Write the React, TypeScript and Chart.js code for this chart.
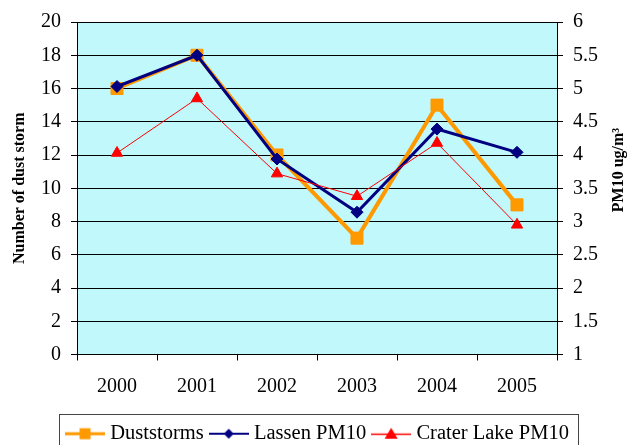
import React, { useEffect, useRef } from "react";
import { Chart, registerables } from "chart.js";

Chart.register(...registerables);

const years = ["2000", "2001", "2002", "2003", "2004", "2005"];
const duststorms = [16, 18, 12, 7, 15, 9];
const lassenPM10 = [5.03, 5.5, 3.94, 3.14, 4.39, 4.04];
const craterLakePM10 = [4.03, 4.85, 3.72, 3.38, 4.18, 2.95];
const seriesNames = ["Duststorms", "Lassen PM10", "Crater Lake PM10"];
const leftTitle = "Number of dust storm";
const rightTitle = "PM10 ug/m\u00B3";

const FONT = "'Liberation Serif', 'Times New Roman', serif";
const ORANGE = "#FF9900";
const NAVY = "#000080";
const RED = "#FF0000";
const PLOT_BG = "#C0F8FC";

Chart.defaults.font.family = FONT;
Chart.defaults.font.size = 20;
Chart.defaults.color = "#000";

const ICON_W = 40;

function makeIcon(kind: string): HTMLCanvasElement {
  const c = document.createElement("canvas");
  c.width = ICON_W;
  c.height = 16;
  const g = c.getContext("2d")!;
  const cy = 8;
  const mx = ICON_W / 2;
  if (kind === "square") {
    g.strokeStyle = ORANGE;
    g.lineWidth = 3;
    g.beginPath();
    g.moveTo(0, cy);
    g.lineTo(ICON_W, cy);
    g.stroke();
    g.fillStyle = ORANGE;
    g.fillRect(mx - 5.5, cy - 5.5, 11, 11);
  } else if (kind === "diamond") {
    g.strokeStyle = NAVY;
    g.lineWidth = 2;
    g.beginPath();
    g.moveTo(0, cy);
    g.lineTo(ICON_W, cy);
    g.stroke();
    g.fillStyle = NAVY;
    g.beginPath();
    g.moveTo(mx, cy - 5);
    g.lineTo(mx + 5, cy);
    g.lineTo(mx, cy + 5);
    g.lineTo(mx - 5, cy);
    g.closePath();
    g.fill();
  } else {
    g.strokeStyle = RED;
    g.lineWidth = 1.5;
    g.beginPath();
    g.moveTo(0, cy + 0.5);
    g.lineTo(ICON_W, cy + 0.5);
    g.stroke();
    g.fillStyle = RED;
    g.beginPath();
    g.moveTo(mx, cy - 6);
    g.lineTo(mx + 6.5, cy + 5);
    g.lineTo(mx - 6.5, cy + 5);
    g.closePath();
    g.fill();
  }
  return c;
}

const bgPlugin = {
  id: "plotBg",
  beforeDraw(chart: any) {
    const { ctx, chartArea } = chart;
    if (!chartArea) return;
    ctx.save();
    ctx.fillStyle = PLOT_BG;
    ctx.fillRect(chartArea.left, chartArea.top, chartArea.right - chartArea.left, chartArea.bottom - chartArea.top);
    ctx.restore();
  },
};

const extrasPlugin = {
  id: "extras",
  afterDraw(chart: any) {
    const { ctx } = chart;
    const legend = chart.legend;
    if (legend && legend.legendHitBoxes && legend.legendHitBoxes.length) {
      const hb = legend.legendHitBoxes;
      const first = hb[0];
      const last = hb[hb.length - 1];
      const x0 = Math.round(first.left - 11) + 0.5;
      const x1 = Math.round(last.left + last.width + 9) + 0.5;
      const y0 = Math.round(legend.top) + 0.5;
      const y1 = Math.round(legend.bottom - 2) + 0.5;
      ctx.save();
      ctx.strokeStyle = "#444444";
      ctx.lineWidth = 1;
      ctx.strokeRect(x0, y0, x1 - x0, y1 - y0);
      ctx.restore();
    }
    ctx.save();
    ctx.translate(619, 170);
    ctx.rotate(-Math.PI / 2);
    ctx.fillStyle = "#000";
    ctx.font = "bold 16px " + FONT;
    ctx.textAlign = "center";
    ctx.textBaseline = "middle";
    ctx.fillText(rightTitle, 0, 0);
    ctx.restore();
  },
};

export default function App() {
  const ref = useRef<HTMLCanvasElement | null>(null);

  useEffect(() => {
    if (!ref.current) return;
    const icons = [makeIcon("square"), makeIcon("diamond"), makeIcon("triangle")];
    const tickFont = { family: FONT, size: 20, weight: "normal" };
    const legendFont = { family: FONT, size: 20.5, weight: "normal" };
    const chart = new Chart(ref.current, {
      type: "line",
      data: {
        labels: years,
        datasets: [
          {
            label: seriesNames[0],
            data: duststorms,
            yAxisID: "y",
            borderColor: ORANGE,
            backgroundColor: ORANGE,
            borderWidth: 4,
            pointStyle: "rect",
            pointRadius: 8.5,
            pointBorderWidth: 1,
            pointBackgroundColor: ORANGE,
            pointBorderColor: ORANGE,
            tension: 0,
            order: 3,
          },
          {
            label: seriesNames[1],
            data: lassenPM10,
            yAxisID: "y2",
            borderColor: NAVY,
            backgroundColor: NAVY,
            borderWidth: 3,
            pointStyle: "rectRot",
            pointRadius: 6,
            pointBorderWidth: 1,
            pointBackgroundColor: NAVY,
            pointBorderColor: NAVY,
            tension: 0,
            order: 2,
          },
          {
            label: seriesNames[2],
            data: craterLakePM10,
            yAxisID: "y2",
            borderColor: RED,
            backgroundColor: RED,
            borderWidth: 1,
            pointStyle: "triangle",
            pointRadius: 6.5,
            pointBorderWidth: 1,
            pointBackgroundColor: RED,
            pointBorderColor: RED,
            tension: 0,
            order: 1,
          },
        ],
      },
      options: {
        animation: false,
        responsive: false,
        devicePixelRatio: 1,
        layout: { padding: { left: 10, right: 0, top: 22, bottom: 6 } },
        plugins: {
          tooltip: { enabled: false },
          legend: {
            position: "bottom",
            labels: {
              color: "#000",
              font: legendFont,
              usePointStyle: true,
              pointStyleWidth: 30,
              padding: 10,
              generateLabels: (ch: any) =>
                ch.data.datasets.map((ds: any, i: number) => ({
                  text: ds.label,
                  pointStyle: icons[i],
                  fillStyle: ds.borderColor,
                  strokeStyle: ds.borderColor,
                  lineWidth: 0,
                  hidden: false,
                  datasetIndex: i,
                  fontColor: "#000",
                })),
            },
          },
        },
        scales: {
          x: {
            offset: true,
            grid: { offset: true, drawOnChartArea: false, drawTicks: true, tickLength: 6, color: "#000" },
            border: { display: true, color: "#000" },
            ticks: { color: "#000", font: tickFont, padding: 14, maxRotation: 0 },
            afterFit: (s: any) => {
              s.height = 59;
            },
          },
          y: {
            position: "left",
            min: 0,
            max: 20,
            ticks: { stepSize: 2, color: "#000", font: tickFont, padding: 10 },
            grid: { color: "#000", lineWidth: 1, tickLength: 6 },
            border: { display: true, color: "#000" },
            title: {
              display: true,
              text: leftTitle,
              color: "#000",
              font: { family: FONT, size: 16, weight: "bold" },
              padding: { top: 0, bottom: 0 },
            },
            afterFit: (s: any) => {
              s.width = 67;
            },
          },
          y2: {
            position: "right",
            min: 1,
            max: 6,
            ticks: {
              stepSize: 0.5,
              color: "#000",
              font: tickFont,
              padding: 10,
              callback: (v: any) => String(v),
            },
            grid: { drawOnChartArea: false, color: "#000", tickLength: 6 },
            border: { display: true, color: "#000" },
            afterFit: (s: any) => {
              s.width = 72;
            },
          },
        },
      } as any,
      plugins: [bgPlugin, extrasPlugin],
    });
    return () => chart.destroy();
  }, []);

  return (
    <div style={{ position: "fixed", left: 0, top: 0, width: 629, height: 460, background: "#fff" }}>
      <canvas ref={ref} width={629} height={460} style={{ display: "block" }} />
    </div>
  );
}
